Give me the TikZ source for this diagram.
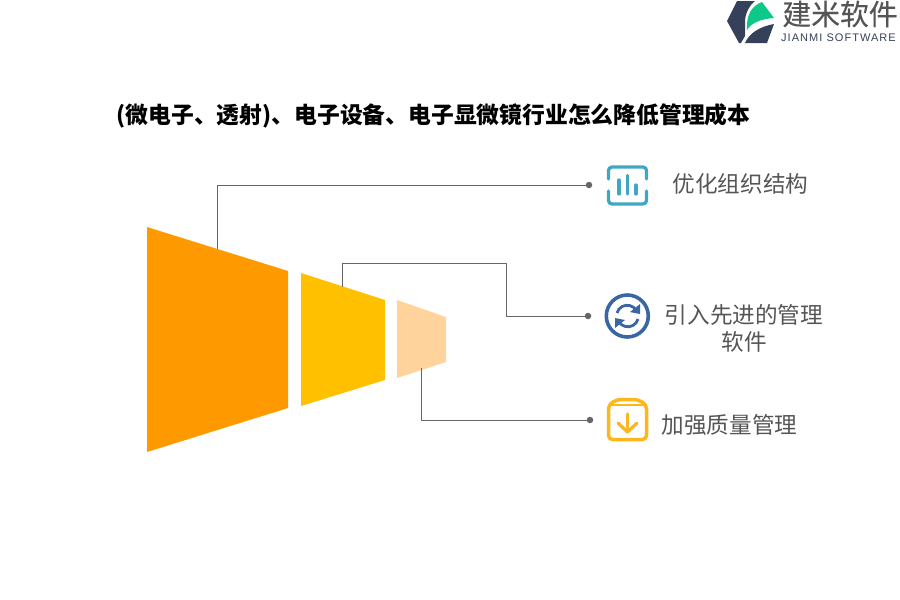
\documentclass[tikz,border=0pt]{standalone}
\usepackage{fontspec}
\setmainfont{Noto Sans CJK SC}
\newfontfamily\latinfont{Liberation Sans}
\usepackage{tikz}

\definecolor{inkgray}{HTML}{555555}
\definecolor{linegray}{HTML}{666666}
\definecolor{logodark}{HTML}{35405A}
\definecolor{logogreen}{HTML}{0CC98A}
\definecolor{barblue}{HTML}{3FA7C4}
\definecolor{ringblue}{HTML}{3A66A3}
\definecolor{boxyellow}{HTML}{FDB71C}
\definecolor{funnelA}{HTML}{FF9900}
\definecolor{funnelB}{HTML}{FFC000}
\definecolor{funnelC}{HTML}{FFD39B}

\tikzset{
  link/.style={linegray, line width=0.7pt},
  dotend/.style={circle, fill=linegray, inner sep=0pt, minimum size=6.5pt},
  label/.style={inkgray, font=\fontsize{22.6}{27}\selectfont, align=center, inner sep=0pt},
  iconline/.style={line width=3.3pt, line cap=round, line join=round},
}

\begin{document}
\begin{tikzpicture}[x=1pt, y=-1pt, line join=round]
\useasboundingbox (0,0) rectangle (900,600);

% logo
\fill [logodark] (737,1) -- (755,1) .. controls (749,6) and (746,12) .. (745,20) -- (745,36) -- (741,43) -- (739,43) -- (727,21) -- cycle;
\fill [logodark] (745,43) .. controls (749,34) and (758,27) .. (774,24) -- (767,43) -- cycle;
\fill [logogreen] (762,2) -- (774,18) .. controls (762,19) and (752,22) .. (747,30) .. controls (746,16) and (751,6) .. (762,2) -- cycle;
\node (brand) at (840,14) {\fontsize{28.8}{30}\selectfont \addfontfeature{FakeBold=0.3}\textcolor{inkgray}{建米软件}};
\node (brandsub) at (838.5,38) {\latinfont\fontsize{11}{12}\selectfont \addfontfeature{LetterSpace=9.5}\textcolor{logodark}{JIANMI SOFTWARE}};

% title
\node (title) at (433.5,116) {\fontsize{22.8}{26}\selectfont\bfseries (微电子、透射)、电子设备、电子显微镜行业怎么降低管理成本};

% funnel
\fill [funnelA] (147,227) -- (288,271) -- (288,408) -- (147,452) -- cycle;
\fill [funnelB] (301,273) -- (385,300) -- (385,380) -- (301,406) -- cycle;
\fill [funnelC] (397,300) -- (446,317) -- (446,362) -- (397,378) -- cycle;

% connectors
\coordinate (rootA) at (217,249);
\coordinate (rootB) at (342,287);
\coordinate (turnB) at (506,263);
\coordinate (rootC) at (421,368);
\node [dotend] (dotA) at (589,185) {};
\node [dotend] (dotB) at (588,316) {};
\node [dotend] (dotC) at (590,420) {};
\draw [link] (rootA) |- (dotA);
\draw [link] (rootB) |- (turnB) |- (dotB);
\draw [link] (rootC) |- (dotC);

% bars icon
\draw [barblue, iconline, rounded corners=3.5pt] (608.5,179) -- (608.5,167) -- (646.5,167) -- (646.5,179);
\draw [barblue, iconline, rounded corners=3.5pt] (608.5,191) -- (608.5,204) -- (646.5,204) -- (646.5,191);
\draw [barblue, iconline] (619,180) -- (619,194);
\draw [barblue, iconline] (627.5,175.5) -- (627.5,194);
\draw [barblue, iconline] (636,185) -- (636,194);

% ring icon
\draw [ringblue, line width=3.6pt] (627.3,316) circle (21);
\draw [ringblue, line width=2.8pt] (617,313) arc (195:325:10.5);
\draw [ringblue, line width=2.8pt] (638,319) arc (15:145:10.5);
\fill [ringblue] (640,304) -- (640,314) -- (630,312) -- cycle;
\fill [ringblue] (615,328) -- (615,318) -- (625,320) -- cycle;

% box icon
\draw [boxyellow, line width=3.5pt, rounded corners=4pt] (608.5,405) -- (608.5,439.5) -- (646.5,439.5) -- (646.5,405) -- (638,399.5) -- (617,399.5) -- cycle;
\draw [boxyellow, line width=2.4pt] (608.5,405) -- (646.5,405);
\draw [boxyellow, iconline] (627.5,414) -- (627.5,432);
\draw [boxyellow, iconline] (618,423) -- (627.5,432) -- (637,423);

% labels
\node [label] (optA) at (740.5,184) {优化组织结构};
\node [label] (optB) at (744,328) {引入先进的管理\\软件};
\node [label] (optC) at (729.5,425) {加强质量管理};
\end{tikzpicture}
\end{document}
